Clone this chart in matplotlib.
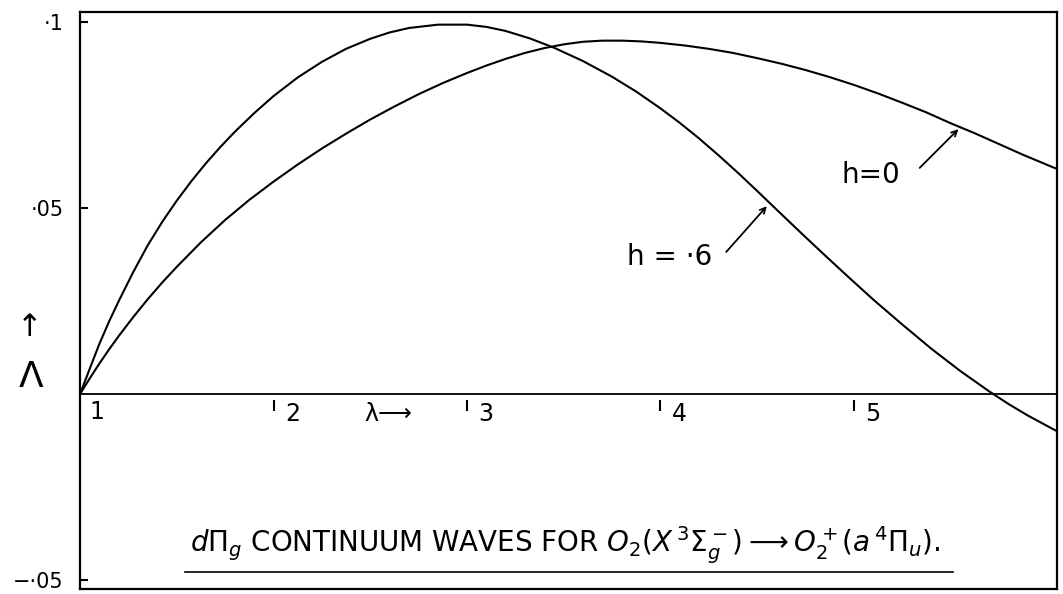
import matplotlib

matplotlib.use("Agg")
import matplotlib.pyplot as plt
from matplotlib.transforms import blended_transform_factory

# Continuum wave amplitudes, read along lambda
lam_h06 = [1.0, 1.05, 1.1, 1.15, 1.2, 1.275, 1.35, 1.425, 1.5, 1.575, 1.65,
           1.725, 1.8, 1.9, 2.0, 2.125, 2.25, 2.375, 2.5, 2.6, 2.7, 2.85,
           3.0, 3.1, 3.2, 3.325, 3.45, 3.6, 3.75, 3.875, 4.0, 4.1, 4.2, 4.3,
           4.4, 4.5, 4.6, 4.725, 4.85, 4.975, 5.1, 5.25, 5.4, 5.55, 5.7, 5.8,
           5.9, 6.05]
amp_h06 = [0.0, 0.0068, 0.0135, 0.0195, 0.025, 0.0328, 0.040, 0.0463, 0.052,
           0.0572, 0.062, 0.0664, 0.0705, 0.0755, 0.0801, 0.0851, 0.0893,
           0.0928, 0.0955, 0.0972, 0.0984, 0.0993, 0.0993, 0.0987, 0.0976,
           0.0956, 0.0931, 0.0895, 0.0853, 0.0813, 0.0768, 0.0729, 0.0687,
           0.0642, 0.0595, 0.0546, 0.0496, 0.0434, 0.0373, 0.0313, 0.0254,
           0.0187, 0.0122, 0.0062, 0.0007, -0.0027, -0.0058, -0.0100]

lam_h0 = [1.0, 1.05, 1.1, 1.15, 1.2, 1.275, 1.35, 1.425, 1.5, 1.625, 1.75,
          1.875, 2.0, 2.125, 2.25, 2.375, 2.5, 2.625, 2.75, 2.875, 3.0, 3.1,
          3.2, 3.3, 3.4, 3.5, 3.6, 3.7, 3.8, 3.9, 4.0, 4.125, 4.25, 4.375,
          4.5, 4.625, 4.75, 4.875, 5.0, 5.125, 5.25, 5.375, 5.5, 5.625, 5.75,
          5.875, 6.05]
amp_h0 = [0.0, 0.0042, 0.0082, 0.0120, 0.0156, 0.0207, 0.0255, 0.0300,
          0.0342, 0.0408, 0.0468, 0.0522, 0.0571, 0.0617, 0.0660, 0.0700,
          0.0738, 0.0773, 0.0806, 0.0836, 0.0863, 0.0883, 0.0901, 0.0917,
          0.0930, 0.0940, 0.0947, 0.0950, 0.0950, 0.0948, 0.0944, 0.0937,
          0.0928, 0.0917, 0.0903, 0.0888, 0.0871, 0.0852, 0.0831, 0.0808,
          0.0783, 0.0757, 0.0728, 0.0701, 0.0672, 0.0643, 0.0605]

x_ticks = [2, 3, 4, 5]
y_ticks = [-0.05, 0.05, 0.1]
y_tick_labels = ["−·05", "·05", "·1"]

fig = plt.figure(figsize=(10.63, 5.94), dpi=100)
ax = fig.add_axes([0.0753, 0.0084, 0.9191, 0.9714])

ax.plot(lam_h06, amp_h06, color="black", lw=1.5)
ax.plot(lam_h0, amp_h0, color="black", lw=1.5)
ax.axhline(0, color="black", lw=1.3)

ax.set_xlim(1.0, 6.05)
ax.set_ylim(-0.0524, 0.1027)
for s in ax.spines.values():
    s.set_linewidth(1.6)

ax.set_xticks([])
ax.set_yticks(y_ticks)
ax.set_yticklabels(y_tick_labels, fontsize=15)
ax.tick_params(axis="y", direction="in", length=6, width=1.5, pad=12)

# hand-placed lambda ticks just under the zero line
ax.text(1.05, -0.0015, "1", fontsize=17, ha="left", va="top")
for xv in x_ticks:
    ax.vlines(xv, -0.0045, -0.0015, color="black", lw=1.5)
    ax.text(xv + 0.06, -0.0022, str(xv), fontsize=17, ha="left", va="top")
ax.text(2.47, -0.0022, "λ⟶", fontsize=17, ha="left", va="top")

# Lambda axis symbol on the left
trans = blended_transform_factory(fig.transFigure, ax.transData)
fig.text(0.029, 0.0, "Λ", fontsize=26, ha="center", va="bottom", transform=trans)
fig.text(0.028, 0.0140, "↑", fontsize=22, ha="center", va="bottom", transform=trans)

# curve labels with hand-drawn style pointers
ax.text(5.09, 0.0589, "h=0", fontsize=20, ha="center", va="center")
ax.annotate("", xy=(5.54, 0.0712), xytext=(5.34, 0.0608),
            arrowprops=dict(arrowstyle="->", color="black", lw=1.3,
                            shrinkA=0, shrinkB=0))
ax.text(4.05, 0.0368, "h = ·6", fontsize=20, ha="center", va="center")
ax.annotate("", xy=(4.55, 0.0505), xytext=(4.34, 0.0382),
            arrowprops=dict(arrowstyle="->", color="black", lw=1.3,
                            shrinkA=0, shrinkB=0))

ax.text(0.497, -0.0405,
        r"$d\Pi_g$ CONTINUUM WAVES FOR "
        r"$O_2(X\,^3\Sigma_g^-)\longrightarrow O_2^+(a\,^4\Pi_u)$.",
        fontsize=20, ha="center", va="center",
        transform=blended_transform_factory(ax.transAxes, ax.transData))
ax.plot([0.107, 0.893], [0.0295, 0.0295], color="black", lw=1.2,
        transform=ax.transAxes)

fig.savefig("out.png", dpi=100)
